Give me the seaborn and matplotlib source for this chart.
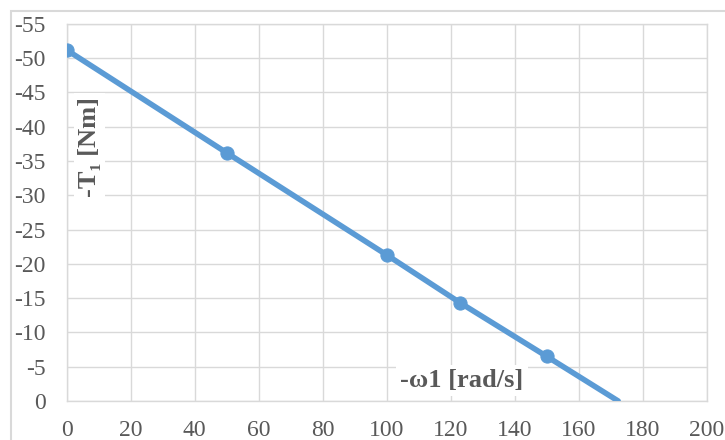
"""
Torque vs. speed line: -T1 against -omega1, Excel-like styling.
"""
import matplotlib
matplotlib.use("Agg")
import matplotlib.pyplot as plt
import seaborn as sns
from matplotlib.patches import Rectangle

# data
omega = [0, 50, 100, 123, 150, 172.3]          # -w1 [rad/s]
torque = [-51.2, -36.2, -21.3, -14.3, -6.5, 0]  # T1 [Nm] (plotted on inverted axis)
marker_omega = [0, 50, 100, 123, 150]
marker_torque = [-51.2, -36.2, -21.3, -14.3, -6.5]

x_ticks = list(range(0, 201, 20))
y_ticks = list(range(0, -56, -5))

sns.set_theme(style="white")
plt.rcParams['font.family'] = ['Liberation Serif', 'DejaVu Serif']
plt.rcParams['axes.unicode_minus'] = False

BLUE = '#5B9BD5'
GRID = '#d9d9d9'
TEXT = '#595959'

fig = plt.figure(figsize=(7.25, 4.4), dpi=100)
ax = fig.add_axes([0.092, 0.0886, 0.883, 0.857])

# outer chart border (only top/left visible in the crop)
fig.patches.append(Rectangle((11 / 725, -0.1), 1.2, 1 - 11 / 440 + 0.1,
                             transform=fig.transFigure, fill=False,
                             edgecolor='#d9d9d9', lw=1.5, zorder=0))

sns.lineplot(x=omega, y=torque, ax=ax, color=BLUE, lw=4, zorder=3)
sns.scatterplot(x=marker_omega, y=marker_torque, ax=ax, color=BLUE, s=90,
                edgecolor=BLUE, zorder=4)

ax.set_xlim(0, 200)
ax.set_ylim(0, -55)
ax.set_xticks(x_ticks)
ax.set_yticks(y_ticks)
ax.grid(True, color=GRID, lw=1)
ax.set_axisbelow(True)
for sp in ax.spines.values():
    sp.set_color(GRID)
    sp.set_linewidth(1)
ax.tick_params(length=0, labelsize=17, labelcolor=TEXT)
ax.tick_params(axis='x', pad=14)
ax.tick_params(axis='y', pad=15)
ax.set_xlabel("")
ax.set_ylabel("")

box = dict(facecolor='white', edgecolor='none', pad=3)
ax.text(0.617, 0.055, "-ω1 [rad/s]", transform=ax.transAxes, ha='center',
        va='center', fontsize=19, fontweight='bold', color=TEXT, bbox=box,
        zorder=5)
ax.text(0.036, 0.674, "-T₁ [Nm]", transform=ax.transAxes, ha='center',
        va='center', rotation=90, fontsize=19, fontweight='bold', color=TEXT,
        bbox=box, zorder=5)

plt.savefig("out.png", dpi=100)
